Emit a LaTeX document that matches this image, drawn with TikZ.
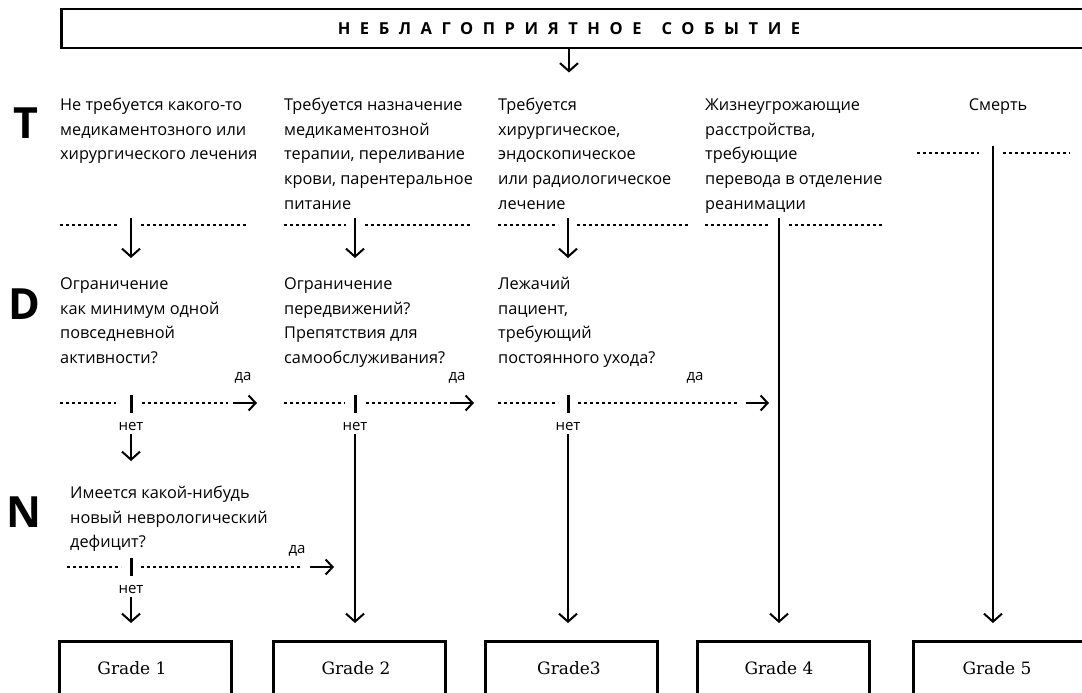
\documentclass[tikz,border=0pt]{standalone}
\usepackage{fontspec}
\setmainfont{Open Sans}
\newfontfamily\gradefont{DejaVu Serif}
\usetikzlibrary{arrows.meta}

\begin{document}
\begin{tikzpicture}[x=1pt,y=-1pt,
  body/.style={anchor=north west, inner sep=0pt, align=left,
               font=\fontsize{16.3}{24.7}\selectfont},
  small/.style={inner sep=0pt, font=\fontsize{15}{17}\selectfont},
  letter/.style={inner sep=0pt, font=\fontsize{43}{45}\selectfont\bfseries},
  heading/.style={inner sep=0pt,
               font=\fontsize{16.5}{18}\selectfont\bfseries\addfontfeature{LetterSpace=58}},
  gradebox/.style={draw, line width=2.5pt, anchor=north west, inner sep=0pt,
               minimum width=172pt, minimum height=80pt},
  gradetxt/.style={inner sep=0pt, font=\gradefont\fontsize{17}{19}\selectfont},
  dots/.style={line width=2.8pt, dash pattern=on 2.8pt off 3.2pt},
  tick/.style={line width=3pt},
  arr/.style={line width=2pt, -{Straight Barb[length=8pt,width=18pt]}},
  harr/.style={line width=2pt, -{Straight Barb[length=7pt,width=15pt]}}
]
\useasboundingbox (0,0) rectangle (1082,693);
\clip (0,0) rectangle (1082,693);

% ---- event box ----
\node[draw, line width=2.5pt, anchor=north west, inner sep=0pt,
      minimum width=1080pt, minimum height=39pt] (event) at (60,8) {};
\node[heading] (title) at (569,29) {НЕБЛАГОПРИЯТНОЕ\kern20pt СОБЫТИЕ};
\draw[arr] (title |- event.south) -- ++(0,23);

% ---- row letters ----
\node[letter] (T) at (26,123) {T};
\node[letter] (D) at (24,304) {D};
\node[letter] (N) at (24,512) {N};

% ---- treatment row ----
\node[body] (t1) at (60,93) {\strut Не требуется какого-то\\медикаментозного или\\хирургического лечения};
\node[body] (t2) at (284,93) {\strut Требуется назначение\\медикаментозной\\терапии, переливание\\крови, парентеральное\\питание};
\node[body] (t3) at (498,93) {\strut Требуется\\хирургическое,\\эндоскопическое\\или радиологическое\\лечение};
\node[body] (t4) at (705,93) {\strut Жизнеугрожающие\\расстройства,\\требующие\\перевода в отделение\\реанимации};
\node[body, anchor=north] (t5) at (998,93) {\strut Смерть};

\draw[dots] (60,225) -- (118,225) (141,225) -- (248,225);
\draw[dots] (284,225) -- (346,225) (365,225) -- (472,225);
\draw[dots] (498,225) -- (558,225) (577,225) -- (688,225);
\draw[dots] (705,225) -- (768,225) (789,225) -- (883,225);
\draw[dots] (917,153) -- (979,153) (1003,153) -- (1070,153);

\coordinate (ta1) at (131,218); \coordinate (tb1) at (131,258);
\coordinate (ta2) at (355,218); \coordinate (tb2) at (355,258);
\coordinate (ta3) at (568,218); \coordinate (tb3) at (568,258);
\coordinate (ta4) at (779,218);
\coordinate (ta5) at (993,146);
\draw[arr] (ta1) -- (tb1);
\draw[arr] (ta2) -- (tb2);
\draw[arr] (ta3) -- (tb3);

% ---- disability row ----
\node[body] (d1) at (60,272) {\strut Ограничение\\как минимум одной\\повседневной\\активности?};
\node[body] (d2) at (284,272) {\strut Ограничение\\передвижений?\\Препятствия для\\самообслуживания?};
\node[body] (d3) at (498,272) {\strut Лежачий\\пациент,\\требующий\\постоянного ухода?};

\draw[dots] (60,403) -- (116,403) (142,403) -- (228,403);
\draw[dots] (284,403) -- (345,403) (366,403) -- (447,403);
\draw[dots] (498,403) -- (558,403) (578,403) -- (737,403);

\draw[tick] (131,395) -- (131,413);
\draw[tick] (355,395) -- (355,413);
\draw[tick] (568,395) -- (568,413);

\node[small] (y1) at (243,378) {да};
\node[small] (y2) at (457,378) {да};
\node[small] (y3) at (695,378) {да};
\node[small] (n1) at (131,426) {нет};
\node[small] (n2) at (355,426) {нет};
\node[small] (n3) at (568,426) {нет};

\coordinate (ya1) at (233,403); \coordinate (yb1) at (257,403);
\coordinate (ya2) at (450,403); \coordinate (yb2) at (474,403);
\coordinate (ya3) at (746,403); \coordinate (yb3) at (769,403);
\draw[harr] (ya1) -- (yb1);
\draw[harr] (ya2) -- (yb2);
\draw[harr] (ya3) -- (yb3);
\draw[arr] (n1.south) ++(0,4) -- (131,461);

% ---- neurological row ----
\node[body] (q1) at (70,481) {\strut Имеется какой-нибудь\\новый неврологический\\дефицит?};
\draw[dots] (67,567) -- (121,567) (141,567) -- (301,567);
\draw[tick] (131,558) -- (131,576);
\node[small] (y4) at (297,551) {да};
\node[small] (n4) at (131,589) {нет};
\coordinate (ya4) at (310,567); \coordinate (yb4) at (334,567);
\draw[harr] (ya4) -- (yb4);
\draw[arr] (n4.south) ++(0,4) -- (131,623);

% ---- grades ----
\node[gradebox] (g1) at (58,640) {};
\node[gradebox] (g2) at (272,640) {};
\node[gradebox] (g3) at (484,640) {};
\node[gradebox] (g4) at (696,640) {};
\node[gradebox, minimum width=220pt] (g5) at (912,640) {};
\node[gradetxt] (l1) at (132,668) {Grade 1};
\node[gradetxt] (l2) at (356,668) {Grade 2};
\node[gradetxt] (l3) at (569,668) {Grade3};
\node[gradetxt] (l4) at (779,668) {Grade 4};
\node[gradetxt] (l5) at (997,668) {Grade 5};

\draw[arr] (n2.south) ++(0,4) -- (355,623);
\draw[arr] (n3.south) ++(0,4) -- (568,623);
\draw[arr] (ta4) -- (779,623);
\draw[arr] (ta5) -- (993,623);
\end{tikzpicture}
\end{document}
